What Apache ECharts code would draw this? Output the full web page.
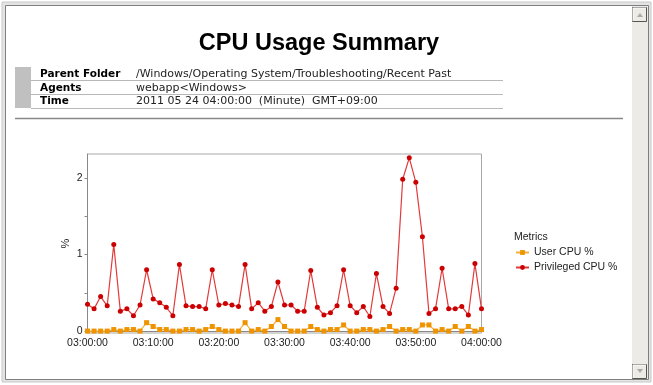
<!DOCTYPE html>
<html><head><meta charset="utf-8">
<script src="https://cdn.jsdelivr.net/npm/echarts@6/dist/echarts.min.js"></script>
<style>html,body{margin:0;padding:0;background:#fff}#c{width:653px;height:385px}</style>
</head><body><div id="c"></div>
<script>
const reportTitle = 'CPU Usage Summary';
const infoLabels = ['Parent Folder', 'Agents', 'Time'];
const infoValues = ['/Windows/Operating System/Troubleshooting/Recent Past', 'webapp<Windows>', '2011 05 24 04:00:00  (Minute)  GMT+09:00'];
const legendTitle = 'Metrics';
const seriesNames = ['User CPU %', 'Privileged CPU %'];
const yAxisName = '%';
const yTickLabels = [0, 1, 2];
const yTickMarks = [0, 0.5, 1, 1.5, 2];
// minutes 03:00 .. 04:00
const categories = [];
for (let m = 0; m <= 60; m++) {
  const hh = m === 60 ? '04' : '03';
  const mm = String(m % 60).padStart(2, '0');
  categories.push(hh + ':' + mm + ':00');
}
const userCpu = [0,0,0,0,0.02,0,0.02,0.02,0,0.11,0.06,0.02,0.02,0,0,0.02,0.02,0,0.02,0.06,0.02,0,0,0,0.11,0,0.02,0,0.06,0.15,0.06,0,0,0,0.06,0.02,0,0.02,0.02,0.08,0,0,0.02,0.02,0,0.02,0.06,0,0.02,0.02,0,0.08,0.08,0,0.02,0,0.06,0,0.06,0,0.02];
const privCpu = [0.35,0.29,0.45,0.33,1.13,0.26,0.29,0.20,0.34,0.80,0.42,0.37,0.31,0.20,0.87,0.33,0.32,0.32,0.29,0.80,0.34,0.36,0.34,0.32,0.87,0.29,0.37,0.26,0.32,0.64,0.34,0.34,0.26,0.26,0.79,0.31,0.21,0.24,0.33,0.80,0.33,0.24,0.32,0.19,0.75,0.32,0.23,0.56,1.98,2.26,1.94,1.23,0.23,0.29,0.82,0.29,0.29,0.32,0.21,0.88,0.29];

const chart = echarts.init(document.getElementById('c'), null, {renderer: 'canvas'});
const sans = 'Liberation Sans, Arial, sans-serif';
const tah = 'DejaVu Sans, Verdana, sans-serif';

const graphics = [
  // window frame
  {type:'rect', shape:{x:0,y:0,width:653,height:385}, style:{fill:'#ffffff'}, z:-10},
  {type:'rect', shape:{x:2,y:2,width:649,height:380}, style:{fill:'#e4e4e4', stroke:'#c8c8c8', lineWidth:1}, z:-9},
  {type:'rect', shape:{x:5.5,y:5.5,width:643,height:374}, style:{fill:'#ffffff', stroke:'#7f7f7f', lineWidth:1}, z:-8},
  // scrollbar
  {type:'rect', shape:{x:632,y:6,width:16,height:373}, style:{fill:'#ecebe6'}, z:-7},
  {type:'rect', shape:{x:632.5,y:7.5,width:14,height:14}, style:{fill:'#ecebe6', stroke:'#555', lineWidth:1}, z:-6},
  {type:'polyline', shape:{points:[[633,21],[633,8],[646,8]]}, style:{stroke:'#ffffff', lineWidth:1}, z:-5},
  {type:'polygon', shape:{points:[[637,17],[643,17],[640,13]]}, style:{fill:'#aaa'}, z:-5},
  {type:'rect', shape:{x:632.5,y:364.5,width:14,height:14}, style:{fill:'#ecebe6', stroke:'#555', lineWidth:1}, z:-6},
  {type:'polyline', shape:{points:[[633,378],[633,365],[646,365]]}, style:{stroke:'#ffffff', lineWidth:1}, z:-5},
  {type:'polygon', shape:{points:[[637,369],[643,369],[640,373]]}, style:{fill:'#aaa'}, z:-5},
  // title
  {type:'text', x:319, y:44, style:{text:reportTitle, font:'bold 23.5px ' + sans, fill:'#000', align:'center', verticalAlign:'middle'}},
  // info table
  {type:'rect', shape:{x:15,y:67,width:16,height:41}, style:{fill:'#c0c0c0'}},
  {type:'line', shape:{x1:31,y1:80.5,x2:503,y2:80.5}, style:{stroke:'#b8b8b8', lineWidth:1}},
  {type:'line', shape:{x1:31,y1:94.5,x2:503,y2:94.5}, style:{stroke:'#b8b8b8', lineWidth:1}},
  {type:'line', shape:{x1:31,y1:108.5,x2:503,y2:108.5}, style:{stroke:'#b8b8b8', lineWidth:1}},
  {type:'line', shape:{x1:15,y1:118.5,x2:623,y2:118.5}, style:{stroke:'#888', lineWidth:1.5}}
];
const rowY = [74, 88, 101.5];
infoLabels.forEach((t, i) => {
  graphics.push({type:'text', x:40, y:rowY[i], style:{text:t, font:'bold 10.5px ' + tah, fill:'#000', verticalAlign:'middle'}});
  graphics.push({type:'text', x:136, y:rowY[i], style:{text:infoValues[i], font:'11px ' + tah, fill:'#222', verticalAlign:'middle'}});
});
graphics.push({type:'text', x:514, y:237, style:{text:legendTitle, font:'10.5px ' + sans, fill:'#222', verticalAlign:'middle'}});

chart.setOption({
  animation: false,
  backgroundColor: 'transparent',
  graphic: graphics,
  grid: {left: 87.5, right: 171.5, top: 154, bottom: 52, show: true, borderColor: '#a8a8a8', borderWidth: 1, containLabel: false},
  legend: {
    data: seriesNames, orient: 'vertical', left: 515, top: 247, itemWidth: 13, itemHeight: 6, itemGap: 4, padding: 0,
    textStyle: {fontFamily: sans, fontSize: 10.5, color: '#222'}
  },
  xAxis: {
    type: 'category', data: categories, boundaryGap: false,
    axisLine: {lineStyle: {color: '#888'}},
    axisTick: {show: false},
    axisLabel: {interval: 9, fontFamily: sans, fontSize: 10.5, color: '#222', margin: 5},
    splitLine: {show: false}
  },
  yAxis: {
    type: 'value', min: -0.025, max: 2.31, name: yAxisName, nameLocation: 'middle', nameGap: 16, nameRotate: 90,
    nameMoveOverlap: false,
    nameTextStyle: {fontFamily: sans, fontSize: 11, color: '#222'},
    axisLine: {show: true, lineStyle: {color: '#888'}},
    axisTick: {show: true, length: 3, customValues: yTickMarks, lineStyle: {color: '#888'}},
    axisLabel: {customValues: yTickLabels, fontFamily: sans, fontSize: 10.5, color: '#222', margin: 5},
    splitLine: {show: false}
  },
  series: [
    {name: seriesNames[0], type: 'line', data: userCpu, symbol: 'rect', symbolSize: 5, showAllSymbol: true,
     lineStyle: {color: '#f4b040', width: 1.2}, itemStyle: {color: '#ef9400'}},
    {name: seriesNames[1], type: 'line', data: privCpu, symbol: 'circle', symbolSize: 5, showAllSymbol: true,
     lineStyle: {color: '#e23a3a', width: 1.2}, itemStyle: {color: '#cc0000'}}
  ]
});
</script></body></html>
